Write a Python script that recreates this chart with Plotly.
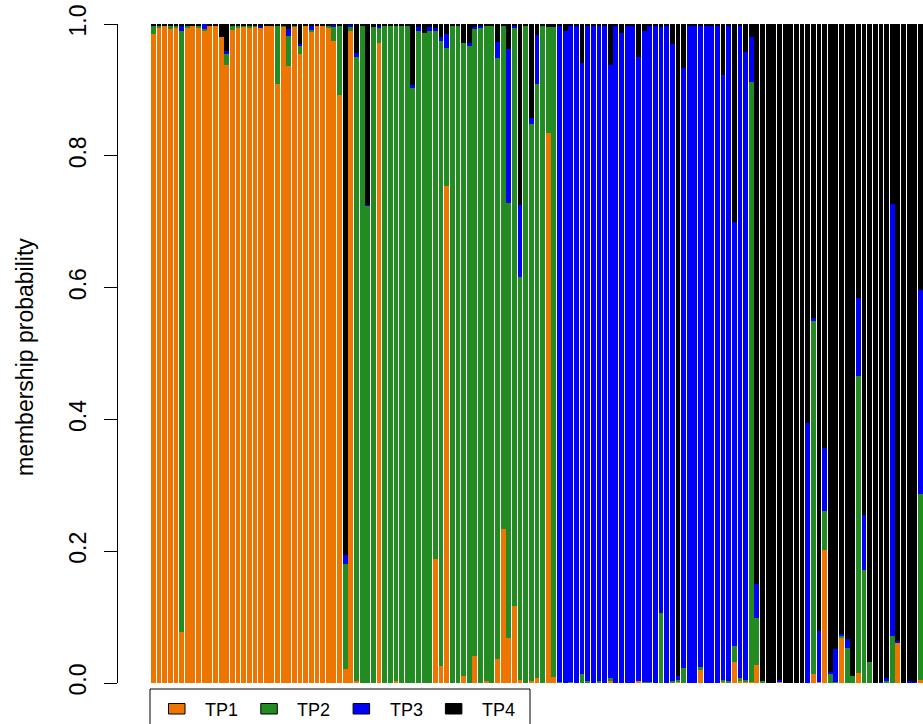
import plotly.graph_objects as go

# Membership probabilities per sample (137 samples), one list per cluster
tp1 = [0.985, 0.995, 0.997, 0.992, 0.994, 0.078, 0.994, 0.997, 0.995, 0.990,
       0.997, 0.997, 0.980, 0.938, 0.991, 0.994, 0.996, 0.995, 0.996, 0.995,
       0.998, 0.998, 0.909, 0.996, 0.936, 0.996, 0.954, 0.998, 0.988, 0.998,
       0.998, 0.995, 0.974, 0.892, 0.022, 0.990, 0.003, 0.000, 0.000, 0.000,
       0.971, 0.000, 0.000, 0.003, 0.000, 0.000, 0.000, 0.000, 0.000, 0.000,
       0.188, 0.026, 0.754, 0.000, 0.000, 0.011, 0.000, 0.041, 0.000, 0.003,
       0.000, 0.036, 0.234, 0.068, 0.117, 0.004, 0.000, 0.003, 0.007, 0.000,
       0.835, 0.009, 0.000, 0.000, 0.000, 0.000, 0.000, 0.000, 0.000, 0.000,
       0.000, 0.003, 0.000, 0.000, 0.000, 0.000, 0.003, 0.000, 0.000, 0.000,
       0.000, 0.000, 0.000, 0.003, 0.000, 0.000, 0.000, 0.021, 0.000, 0.000,
       0.000, 0.002, 0.000, 0.032, 0.003, 0.003, 0.002, 0.027, 0.000, 0.000,
       0.000, 0.002, 0.000, 0.000, 0.000, 0.000, 0.000, 0.014, 0.002, 0.202,
       0.000, 0.000, 0.069, 0.000, 0.000, 0.015, 0.000, 0.000, 0.000, 0.000,
       0.000, 0.000, 0.061, 0.000, 0.000, 0.000, 0.005]
tp2 = [0.012, 0.002, 0.000, 0.005, 0.003, 0.912, 0.004, 0.000, 0.002, 0.002,
       0.000, 0.000, 0.000, 0.016, 0.006, 0.004, 0.002, 0.003, 0.002, 0.000,
       0.000, 0.000, 0.088, 0.002, 0.046, 0.002, 0.013, 0.000, 0.003, 0.000,
       0.000, 0.003, 0.022, 0.105, 0.159, 0.006, 0.947, 0.997, 0.724, 0.995,
       0.024, 0.997, 0.997, 0.994, 0.997, 0.997, 0.903, 0.990, 0.986, 0.990,
       0.802, 0.948, 0.209, 0.997, 0.998, 0.960, 0.968, 0.952, 0.995, 0.994,
       0.997, 0.912, 0.763, 0.660, 0.878, 0.612, 0.998, 0.845, 0.902, 0.998,
       0.160, 0.986, 0.002, 0.000, 0.002, 0.000, 0.014, 0.003, 0.000, 0.003,
       0.000, 0.005, 0.000, 0.000, 0.000, 0.000, 0.000, 0.002, 0.002, 0.000,
       0.106, 0.000, 0.003, 0.002, 0.023, 0.000, 0.000, 0.003, 0.000, 0.000,
       0.000, 0.002, 0.003, 0.024, 0.004, 0.002, 0.910, 0.072, 0.003, 0.000,
       0.000, 0.000, 0.000, 0.000, 0.000, 0.000, 0.000, 0.535, 0.000, 0.059,
       0.015, 0.002, 0.002, 0.053, 0.011, 0.451, 0.171, 0.032, 0.000, 0.000,
       0.003, 0.071, 0.000, 0.000, 0.000, 0.000, 0.282]
tp3 = [0.000, 0.000, 0.000, 0.000, 0.000, 0.007, 0.000, 0.000, 0.000, 0.008,
       0.000, 0.000, 0.000, 0.005, 0.000, 0.000, 0.000, 0.000, 0.000, 0.003,
       0.000, 0.000, 0.000, 0.000, 0.011, 0.000, 0.003, 0.000, 0.007, 0.000,
       0.000, 0.000, 0.003, 0.000, 0.013, 0.003, 0.006, 0.000, 0.002, 0.000,
       0.003, 0.000, 0.000, 0.000, 0.000, 0.000, 0.004, 0.005, 0.000, 0.005,
       0.004, 0.006, 0.022, 0.000, 0.000, 0.000, 0.003, 0.002, 0.002, 0.000,
       0.000, 0.025, 0.001, 0.234, 0.003, 0.109, 0.000, 0.009, 0.074, 0.000,
       0.000, 0.000, 0.996, 0.989, 0.995, 0.998, 0.927, 0.995, 0.998, 0.995,
       0.998, 0.930, 0.998, 0.986, 0.997, 0.998, 0.947, 0.987, 0.996, 0.998,
       0.889, 0.998, 0.967, 0.006, 0.910, 0.998, 0.998, 0.974, 0.998, 0.998,
       0.998, 0.918, 0.994, 0.644, 0.991, 0.952, 0.068, 0.051, 0.000, 0.000,
       0.000, 0.003, 0.000, 0.000, 0.000, 0.000, 0.395, 0.005, 0.077, 0.096,
       0.002, 0.050, 0.004, 0.014, 0.000, 0.118, 0.084, 0.000, 0.000, 0.002,
       0.004, 0.656, 0.003, 0.000, 0.003, 0.002, 0.309]
tp4 = [0.003, 0.003, 0.003, 0.003, 0.003, 0.003, 0.002, 0.003, 0.003, 0.000,
       0.003, 0.003, 0.020, 0.041, 0.003, 0.002, 0.002, 0.002, 0.002, 0.002,
       0.002, 0.002, 0.003, 0.002, 0.007, 0.002, 0.030, 0.002, 0.002, 0.002,
       0.002, 0.002, 0.001, 0.003, 0.806, 0.001, 0.044, 0.003, 0.274, 0.005,
       0.002, 0.003, 0.003, 0.003, 0.003, 0.003, 0.093, 0.005, 0.014, 0.005,
       0.006, 0.020, 0.015, 0.003, 0.002, 0.029, 0.029, 0.005, 0.003, 0.003,
       0.003, 0.027, 0.002, 0.038, 0.002, 0.275, 0.002, 0.143, 0.017, 0.002,
       0.005, 0.005, 0.002, 0.011, 0.003, 0.002, 0.059, 0.002, 0.002, 0.002,
       0.002, 0.062, 0.002, 0.014, 0.003, 0.002, 0.050, 0.011, 0.002, 0.002,
       0.005, 0.002, 0.030, 0.989, 0.067, 0.002, 0.002, 0.002, 0.002, 0.002,
       0.002, 0.078, 0.003, 0.300, 0.002, 0.043, 0.020, 0.850, 0.997, 1.000,
       1.000, 0.995, 1.000, 1.000, 1.000, 1.000, 0.605, 0.446, 0.921, 0.643,
       0.983, 0.948, 0.925, 0.933, 0.989, 0.416, 0.745, 0.968, 1.000, 0.998,
       0.993, 0.273, 0.936, 1.000, 0.997, 0.998, 0.404]

series_names = ["TP1", "TP2", "TP3", "TP4"]
series_colors = ["#EE7600", "#228B22", "#0000FF", "#000000"]
y_ticks = [0.0, 0.2, 0.4, 0.6, 0.8, 1.0]
y_tick_labels = ["0.0", "0.2", "0.4", "0.6", "0.8", "1.0"]
y_title = "membership probability"

FONT = "Liberation Sans, Arial, Helvetica, sans-serif"
W, H = 923, 724
ML, MR, MT, MB = 118, 0, 24, 41
plot_w = W - ML - MR
plot_h = H - MT - MB

# Bar layout: pitch of 5.64 px, first bar starts at x=151
pitch_px = 5.64
bar_w = 0.86
first_left_px = 151
x0 = -((first_left_px + bar_w * pitch_px / 2) - ML) / pitch_px
x1 = x0 + plot_w / pitch_px

positions = list(range(len(tp1)))

fig = go.Figure()
for name, vals, col in zip(series_names, [tp1, tp2, tp3, tp4], series_colors):
    fig.add_trace(go.Bar(
        x=positions, y=vals, width=bar_w, name=name,
        marker=dict(color=col, line=dict(width=0)),
        showlegend=False,
    ))

# helpers to convert pixel placements into paper coordinates
def px_x(x):
    return (x - ML) / plot_w

def px_y(y):
    return (H - MB - y) / plot_h

shapes = []
annotations = []

# legend frame and entries along the bottom
shapes.append(dict(type="rect", xref="paper", yref="paper",
                   x0=px_x(150), x1=px_x(530), y0=px_y(689), y1=px_y(770),
                   line=dict(color="black", width=1), fillcolor="rgba(0,0,0,0)"))
for k, (name, col) in enumerate(zip(series_names, series_colors)):
    kx = 168.5 + 92.3 * k
    shapes.append(dict(type="rect", xref="paper", yref="paper",
                       x0=px_x(kx), x1=px_x(kx + 16.5), y0=px_y(703.5), y1=px_y(714),
                       line=dict(color="black", width=1), fillcolor=col))
    annotations.append(dict(text=name, xref="paper", yref="paper",
                            x=px_x(kx + 34.5), y=px_y(709.5), xanchor="left", yanchor="middle",
                            showarrow=False, font=dict(family=FONT, size=18, color="black")))

annotations.append(dict(text=y_title, xref="paper", yref="paper",
                        x=px_x(25), y=px_y(357), xanchor="center", yanchor="middle",
                        textangle=-90, showarrow=False,
                        font=dict(family=FONT, size=23, color="black")))

fig.update_layout(
    width=W, height=H,
    margin=dict(l=ML, r=MR, t=MT, b=MB, pad=0),
    paper_bgcolor="white", plot_bgcolor="white",
    barmode="stack", bargap=0,
    shapes=shapes, annotations=annotations,
    xaxis=dict(range=[x0, x1], visible=False, fixedrange=True),
    yaxis=dict(range=[0, 1], tickvals=y_ticks, ticktext=y_tick_labels,
               ticks="outside", ticklen=13, tickwidth=1, tickcolor="black",
               showline=True, linecolor="black", linewidth=1,
               showgrid=False, zeroline=False, tickangle=-90,
               ticklabelstandoff=9,
               tickfont=dict(family=FONT, size=23, color="black"),
               automargin=False, fixedrange=True),
    font=dict(family=FONT, color="black"),
)

fig.write_html("out.html")
